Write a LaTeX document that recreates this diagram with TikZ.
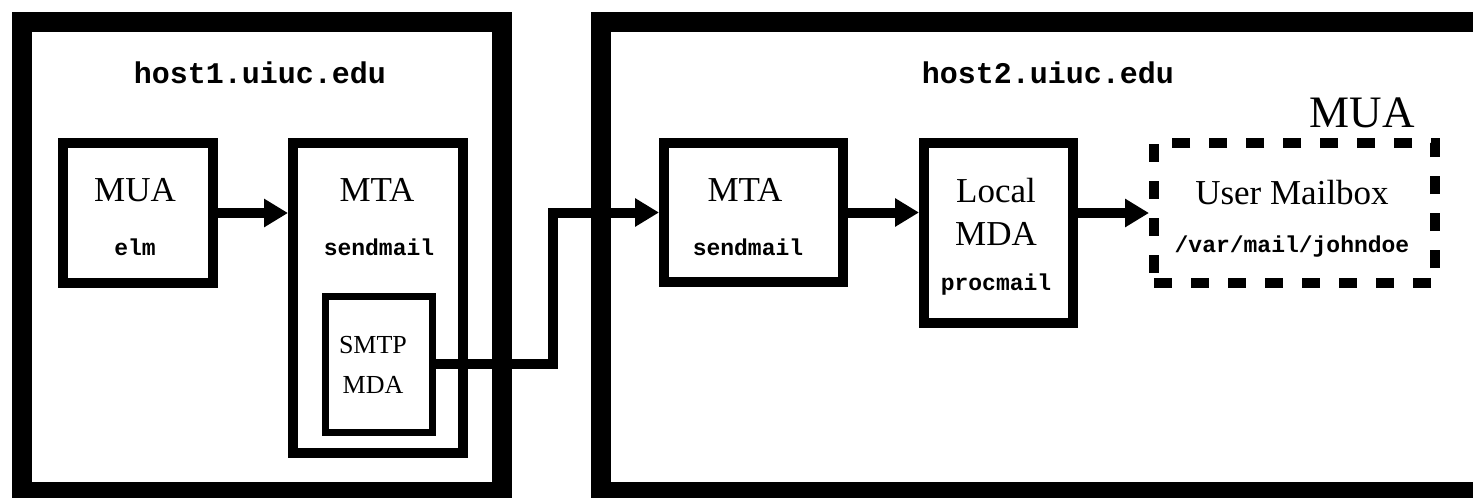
\documentclass[tikz,border=0pt]{standalone}
\usepackage{fontspec}
\setmainfont{Liberation Serif}
\setmonofont{Liberation Mono}
\usepackage{tikz}
\usetikzlibrary{arrows.meta}
\usetikzlibrary{positioning}

\begin{document}
\begin{tikzpicture}[x=1pt,y=-1pt,-,auto]
	\tikzstyle{host}=[draw, line width=20pt, inner sep=0pt]
	\tikzstyle{prog}=[draw, line width=10pt, inner sep=0pt]
	\tikzstyle{txt}=[inner sep=0pt, align=center]
	\tikzstyle{word}=[txt, font=\fontsize{35}{43}\selectfont]
	\tikzstyle{prg}=[txt, font=\fontsize{23}{23}\selectfont\ttfamily\bfseries]
	\tikzstyle{hname}=[txt, font=\fontsize{30}{30}\selectfont\ttfamily\bfseries]
	\tikzstyle{flow}=[line width=10pt, -{Triangle[length=24pt,width=27pt]}]
	\useasboundingbox (0,0) rectangle (1473,498);

	% the two hosts
	\node[host, minimum width=480pt, minimum height=470pt] (host1) at (262,257) {};
	\node[host, minimum width=882pt, minimum height=470pt] (host2) at (1042,257) {};
	\node[hname] (h1name) at (260,73) {host1.uiuc.edu};
	\node[hname] (h2name) at (1048,73) {host2.uiuc.edu};

	% host1
	\node[prog, minimum width=150pt, minimum height=140pt] (mua) at (138,213) {};
	\node[prog, minimum width=170pt, minimum height=310pt] (mta) at (378,298) {};
	\node[draw, line width=7pt, inner sep=0pt, minimum width=107pt, minimum height=136pt] (smtp) at (378.5,364) {};
	\node[word] (muatxt) at (135,190) {MUA};
	\node[prg] (elm) at (135,247) {elm};
	\node[word] (mtatxt) at (377,190) {MTA};
	\node[prg] (send) at (379,247) {sendmail};
	\node[txt, font=\fontsize{26}{40}\selectfont] (smtptxt) at (373,365) {SMTP\\MDA};

	% host2
	\node[prog, minimum width=179pt, minimum height=139pt] (mtb) at (753.5,212.5) {};
	\node[prog, minimum width=149pt, minimum height=180pt] (mda) at (998.5,233) {};
	\node[prog, dash pattern=on 18pt off 19pt, minimum width=281pt, minimum height=140pt] (box) at (1294.5,213) {};
	\node[word] (mtbtxt) at (745,190) {MTA};
	\node[prg] (sendb) at (748,247) {sendmail};
	\node[word] (mdatxt) at (996,211.5) {Local\\MDA};
	\node[prg] (proc) at (996,285) {procmail};
	\node[word] (boxtxt) at (1292,193) {User Mailbox};
	\node[prg] (path) at (1292,247) {/var/mail/johndoe};
	\node[txt, font=\fontsize{45}{45}\selectfont] (muab) at (1362,113) {MUA};

	\draw[flow] (mua) -- (mta.west |- mua);
	\draw[flow] (smtp.east) -- ++(117,0) |- (mtb.west);
	\draw[flow] (mtb.east) -- (mda.west |- mtb);
	\draw[flow] (mda.east |- box) -- (box.west);
\end{tikzpicture}
\end{document}
